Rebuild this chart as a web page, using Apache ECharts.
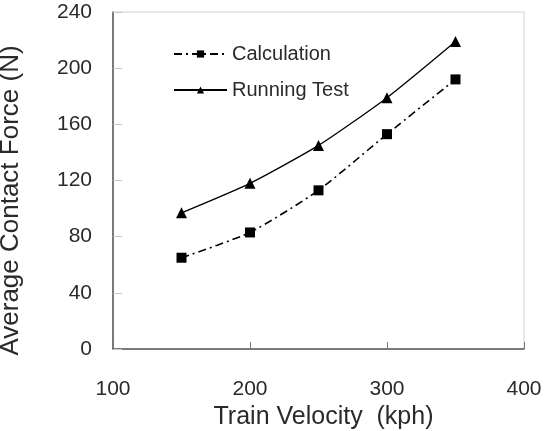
<!DOCTYPE html>
<html>
<head>
<meta charset="utf-8">
<script src="https://cdn.jsdelivr.net/npm/echarts@6/dist/echarts.min.js"></script>
<style>
html,body{margin:0;padding:0;background:#fff;}
#chart{width:551px;height:431px;}
</style>
</head>
<body>
<div id="chart"></div>
<script>
var velocities = [150, 200, 250, 300, 350];
var calculation = [65, 83, 113, 153, 192];
var runningTest = [97, 118, 145, 179, 219];
var seriesNames = ['Calculation', 'Running Test'];
var xTitle = 'Train Velocity  (kph)';
var yTitle = 'Average Contact Force (N)';

function pairs(xs, ys) { return xs.map(function (x, i) { return [x, ys[i]]; }); }

var font = 'Liberation Sans, Arial, sans-serif';
var txt = '#2a2a2a';
var chart = echarts.init(document.getElementById('chart'), null, {renderer: 'canvas'});
chart.setOption({
  backgroundColor: '#fff',
  animation: false,
  grid: {left: 113, right: 27, top: 12, bottom: 82, show: true, borderColor: '#d0d0d0', borderWidth: 1,
         containLabel: false, outerBoundsMode: 'none'},
  legend: {
    orient: 'vertical', left: 168, top: 39, itemGap: 16,
    itemWidth: 53, itemHeight: 9,
    textStyle: {fontFamily: font, fontSize: 20, color: txt},
    data: seriesNames
  },
  xAxis: {
    type: 'value', min: 100, max: 400, interval: 100,
    name: xTitle, nameLocation: 'middle', nameGap: 56,
    nameTextStyle: {fontFamily: font, fontSize: 25, color: txt, padding: [0, 0, 0, 10]},
    axisLine: {show: true, lineStyle: {color: '#555', width: 1.5}},
    axisTick: {show: true, inside: true, length: 7, lineStyle: {color: '#777'}},
    axisLabel: {fontFamily: font, fontSize: 21, color: txt, margin: 30},
    splitLine: {show: false}
  },
  yAxis: {
    type: 'value', min: 0, max: 240, interval: 40,
    name: yTitle, nameLocation: 'middle', nameGap: 89,
    nameTextStyle: {fontFamily: font, fontSize: 26, color: txt, padding: [0, 40, 0, 0]},
    axisLine: {show: true, lineStyle: {color: '#555', width: 1.5}},
    axisTick: {show: true, inside: true, length: 9, lineStyle: {color: '#c8c8c8'}},
    axisLabel: {fontFamily: font, fontSize: 21, color: txt, margin: 21},
    splitLine: {show: false}
  },
  series: [
    {
      name: seriesNames[0], type: 'line', smooth: 0.2,
      data: pairs(velocities, calculation),
      symbol: 'rect', symbolSize: 10,
      itemStyle: {color: '#000'},
      lineStyle: {color: '#000', width: 1.6, type: [8, 4, 2, 4]}
    },
    {
      name: seriesNames[1], type: 'line', smooth: 0.2,
      data: pairs(velocities, runningTest),
      symbol: 'triangle', symbolSize: 11,
      itemStyle: {color: '#000'},
      lineStyle: {color: '#000', width: 1.3, type: 'solid'}
    }
  ]
});
</script>
</body>
</html>
